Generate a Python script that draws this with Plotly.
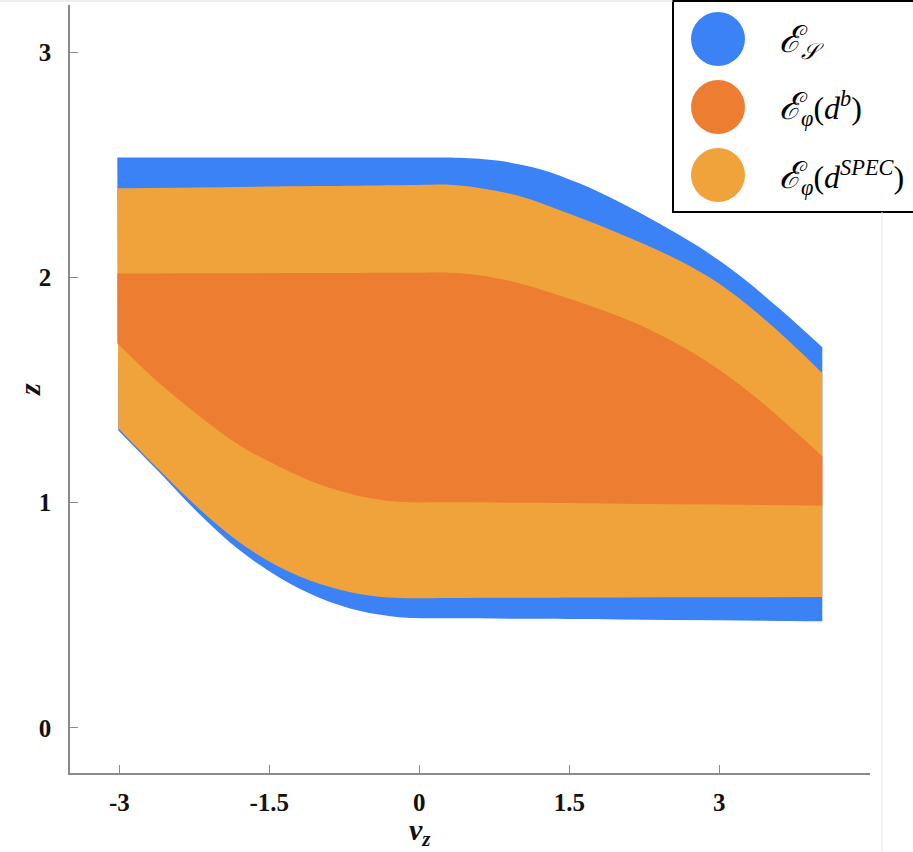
import plotly.graph_objects as go

# ---------------- data ----------------
# E_S (blue) region boundaries
es_top_v = [-3.02, -2.0, -1.0, 0.0, 0.4, 0.8, 1.2, 1.6, 2.0, 2.4, 2.8, 3.2, 3.6, 4.03]
es_top_z = [2.533, 2.533, 2.533, 2.533, 2.532, 2.518, 2.482, 2.418, 2.335, 2.240, 2.135, 2.010, 1.862, 1.690]
es_bot_v = [-3.01, -2.6, -2.2, -1.8, -1.4, -1.0, -0.6, -0.2, 0.3, 1.0, 2.0, 3.0, 4.03]
es_bot_z = [1.321, 1.135, 0.950, 0.790, 0.668, 0.578, 0.520, 0.492, 0.487, 0.485, 0.482, 0.478, 0.474]

# E_phi(d^SPEC) (light orange) region boundaries
spec_top_v = [-3.02, -2.0, -1.0, 0.0, 0.3, 0.6, 1.0, 1.4, 1.8, 2.2, 2.6, 3.0, 3.4, 3.8, 4.03]
spec_top_z = [2.396, 2.401, 2.406, 2.411, 2.412, 2.398, 2.362, 2.300, 2.232, 2.158, 2.075, 1.972, 1.835, 1.675, 1.575]
spec_bot_v = [-3.01, -2.6, -2.2, -1.8, -1.4, -1.0, -0.6, -0.2, 0.3, 1.0, 2.0, 3.0, 4.03]
spec_bot_z = [1.331, 1.145, 0.972, 0.825, 0.715, 0.640, 0.595, 0.577, 0.577, 0.578, 0.579, 0.580, 0.581]

# E_phi(d^b) (dark orange) region boundaries
db_top_v = [-3.02, -2.0, -1.0, 0.0, 0.3, 0.6, 1.0, 1.4, 1.8, 2.2, 2.6, 3.0, 3.4, 3.8, 4.03]
db_top_z = [2.018, 2.019, 2.020, 2.021, 2.021, 2.010, 1.975, 1.920, 1.860, 1.790, 1.700, 1.590, 1.455, 1.300, 1.206]
db_bot_v = [-3.02, -2.6, -2.2, -1.8, -1.4, -1.0, -0.6, -0.2, 0.3, 1.0, 2.0, 3.0, 4.03]
db_bot_z = [1.708, 1.530, 1.385, 1.255, 1.160, 1.082, 1.030, 1.004, 1.002, 1.000, 0.996, 0.992, 0.988]

x_ticks = [-3, -1.5, 0, 1.5, 3]
x_tick_labels = ["-3", "-1.5", "0", "1.5", "3"]
y_ticks = [0, 1, 2, 3]
y_tick_labels = ["0", "1", "2", "3"]

E = "<span style='font-size:37px'><i>ℰ</i></span>"
legend_labels = [
    E + "<sub><i>𝒮</i></sub>",
    E + "<sub><i>φ</i></sub>(<i>d</i><sup><i>b</i></sup>)",
    E + "<sub><i>φ</i></sub>(<i>d</i><sup><i>SPEC</i></sup>)",
]
x_title = "<b><i>v</i></b><sub><b><i>z</i></b></sub>"
y_title = "<b><i>z</i></b>"

BLUE = "#3B82F6"
DARK_OR = "#ED7D31"
LIGHT_OR = "#F1A33B"
legend_colors = [BLUE, DARK_OR, LIGHT_OR]

# ---------------- figure ----------------
W, H = 913, 852
ML, MR, MT, MB = 70, 43, 5, 79
SERIF = "Liberation Serif, Times New Roman, serif"

fig = go.Figure()

def band(lv, lz, uv, uz, color):
    fig.add_trace(go.Scatter(x=lv, y=lz, mode="lines", line=dict(width=0, shape="spline", smoothing=1.0),
                             hoverinfo="skip", showlegend=False))
    fig.add_trace(go.Scatter(x=uv, y=uz, mode="lines", line=dict(width=0, shape="spline", smoothing=1.0),
                             fill="tonexty", fillcolor=color, hoverinfo="skip", showlegend=False))

band(es_bot_v, es_bot_z, es_top_v, es_top_z, BLUE)
band(spec_bot_v, spec_bot_z, spec_top_v, spec_top_z, LIGHT_OR)
band(db_bot_v, db_bot_z, db_top_v, db_top_z, DARK_OR)

axis_color = "#8a8a8a"
tickfont = dict(family=SERIF, size=25, color="#111111", weight="bold")

fig.update_xaxes(
    range=[-3.493, 4.507], tickvals=x_ticks, ticktext=x_tick_labels,
    showgrid=False, zeroline=False, showline=True, linecolor=axis_color, linewidth=1.5,
    ticks="inside", ticklen=8, tickwidth=1.2, tickcolor=axis_color,
    tickfont=tickfont, ticklabelstandoff=6,
)
fig.update_yaxes(
    range=[-0.2, 3.21], tickvals=y_ticks, ticktext=y_tick_labels,
    showgrid=False, zeroline=False, showline=True, linecolor=axis_color, linewidth=1.5,
    ticks="inside", ticklen=8, tickwidth=1.2, tickcolor=axis_color,
    tickfont=tickfont, ticklabelstandoff=12,
)

PW = W - ML - MR
PH = H - MT - MB

def px(xp):
    return (xp - ML) / PW

def py(yp):
    return (H - MB - yp) / PH

shapes = []
# legend box
shapes.append(dict(type="rect", xref="paper", yref="paper",
                   x0=px(673), x1=px(916), y0=py(212), y1=py(1),
                   line=dict(color="black", width=2), fillcolor="white", layer="above"))
centers = [39, 107, 175]
r = 27
for cy, col in zip(centers, legend_colors):
    shapes.append(dict(type="circle", xref="paper", yref="paper",
                       x0=px(718 - r), x1=px(718 + r), y0=py(cy + r), y1=py(cy - r),
                       line=dict(width=0), fillcolor=col, layer="above"))
# faint screenshot border lines
shapes.append(dict(type="line", xref="paper", yref="paper", x0=px(0), x1=px(673), y0=py(1), y1=py(1),
                   line=dict(color="#dddddd", width=1)))
shapes.append(dict(type="line", xref="paper", yref="paper", x0=px(882), x1=px(882), y0=py(852), y1=py(212),
                   line=dict(color="#e6e6e6", width=1)))

annotations = []
for cy, lab in zip(centers, legend_labels):
    annotations.append(dict(xref="paper", yref="paper", x=px(777), y=py(cy + 2), xanchor="left", yanchor="middle",
                            text=lab, showarrow=False,
                            font=dict(family=SERIF, size=32, color="black")))
# axis titles
annotations.append(dict(xref="paper", yref="paper", x=px(420), y=py(832), xanchor="center", yanchor="middle",
                        text=x_title, showarrow=False, font=dict(family=SERIF, size=30, color="#111111")))
annotations.append(dict(xref="paper", yref="paper", x=px(30), y=py(390), xanchor="center", yanchor="middle",
                        text=y_title, showarrow=False, textangle=-90,
                        font=dict(family=SERIF, size=30, color="#111111")))

fig.update_layout(
    width=W, height=H,
    margin=dict(l=ML, r=MR, t=MT, b=MB),
    plot_bgcolor="white", paper_bgcolor="white",
    shapes=shapes, annotations=annotations,
    showlegend=False,
)

fig.write_html("out.html", config={"displayModeBar": False},
               post_script="document.body.style.margin='0';")
